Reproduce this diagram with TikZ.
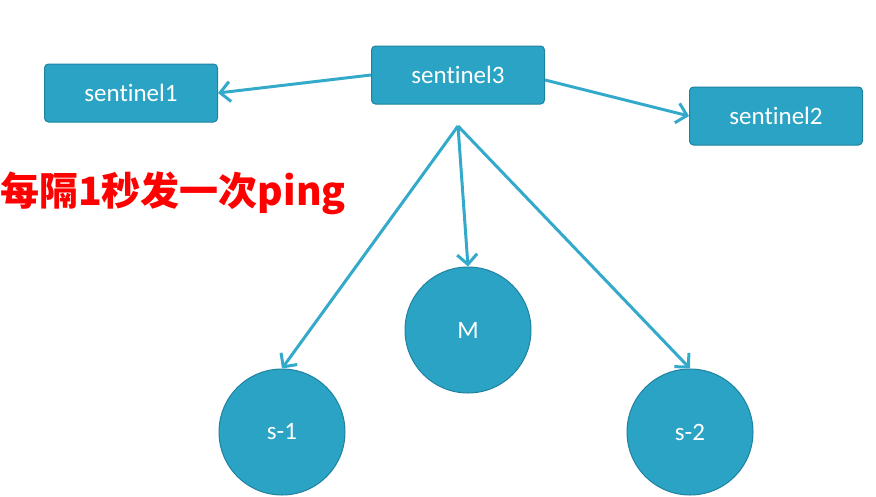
\documentclass[tikz,border=0pt]{standalone}
\usepackage{fontspec}
\setmainfont{Carlito}[Ligatures=NoCommon]
\newfontfamily\cjk{Noto Sans CJK SC}
\usetikzlibrary{arrows.meta}
\definecolor{tfill}{RGB}{43,163,196}
\definecolor{tdraw}{RGB}{30,130,160}
\definecolor{tline}{RGB}{52,170,203}
\tikzset{
  box/.style={draw=tdraw,fill=tfill,rounded corners=4pt,line width=1pt,minimum width=173pt,minimum height=58pt,text=white,font=\fontsize{25}{28}\selectfont},
  ball/.style={circle,draw=tdraw,fill=tfill,line width=1pt,minimum size=126pt,text=white,font=\fontsize{25}{28}\selectfont},
  conn/.style={draw=tline,line width=3pt,-{Straight Barb[length=10pt,width=20pt,line width=3pt]}}
}
\begin{document}
\begin{tikzpicture}[x=1pt,y=-1pt]
\useasboundingbox (0,0) rectangle (876,496);
\node[box] (s1) at (131,93) {sentinel1};
\node[box] (s3) at (458,75) {sentinel3};
\node[box] (s2) at (776,116) {sentinel2};
\node[ball] (m) at (468,330) {M};
\node[ball] (a) at (282,432) {s-1};
\node[ball] (b) at (690,432) {s-2};
\coordinate (o) at (458,126);
\draw[conn] (s3.west) -- (s1.east);
\draw[conn] ([yshift=-5pt]s3.east) -- (s2.west);
\draw[conn] (o) -- (a.north);
\draw[conn] (o) -- (m.north);
\draw[conn] (o) -- (b.north);
\node[anchor=west,text=red,font=\cjk\bfseries\fontsize{39}{44}\selectfont,inner sep=0pt] (t) at (0,193) {每隔1秒发一次ping};
\end{tikzpicture}
\end{document}
